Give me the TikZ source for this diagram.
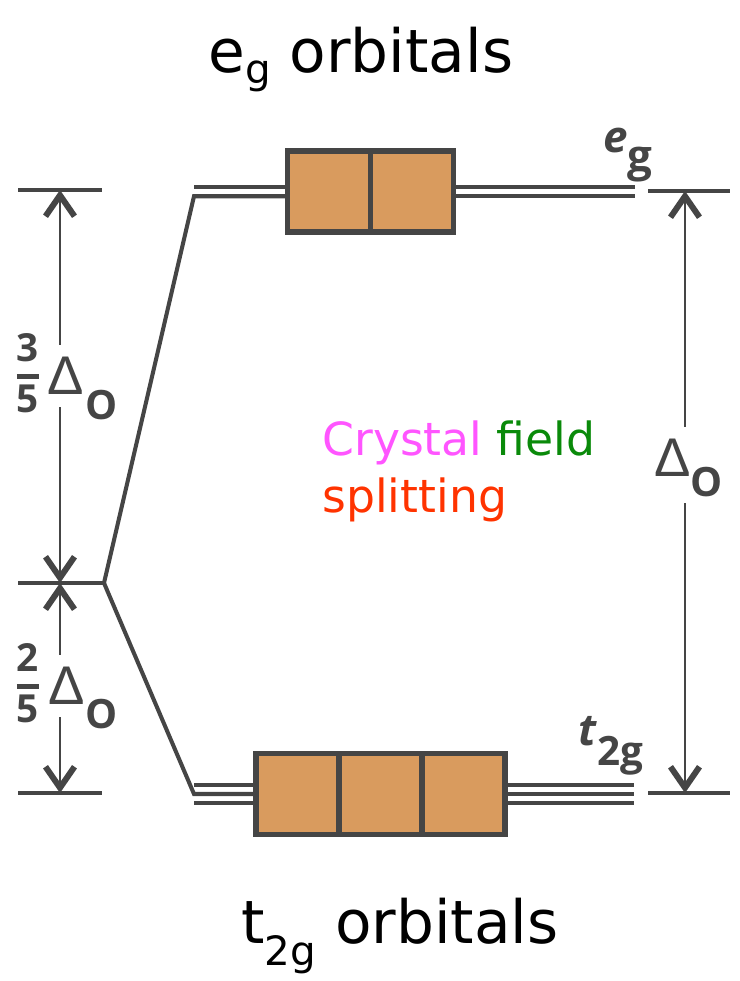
\documentclass[tikz,border=0pt]{standalone}
\usepackage{fontspec}
\setmainfont{Open Sans}
\newfontfamily\titlefont{DejaVu Sans}
\newfontfamily\deltafont{Liberation Sans}
\usetikzlibrary{positioning, arrows.meta}

\definecolor{linegray}{HTML}{454545}
\definecolor{orbfill}{HTML}{D99B5E}
\definecolor{crystalpink}{HTML}{FF55FF}
\definecolor{fieldgreen}{HTML}{0A8A0A}
\definecolor{splitred}{HTML}{FF3300}

\begin{document}
\begin{tikzpicture}[
    x=0.02cm, y=-0.02cm,
    orbbox/.style={draw=linegray, fill=orbfill, line width=3pt, minimum width=1.66cm, minimum height=1.62cm, inner sep=0pt, outer sep=0pt},
    orbline/.style={draw=linegray, line width=2.3pt},
    ticks/.style={draw=linegray, line width=2.3pt},
    dimarrow/.style={draw=linegray, line width=1.3pt, -{Straight Barb[length=0.42cm, width=0.58cm, line width=3.4pt]}},
    dlabel/.style={inner xsep=0pt, inner ysep=0.24cm, text=linegray, font=\deltafont\fontsize{31}{31}\selectfont},
    osub/.style={inner sep=0pt, text=linegray, font=\bfseries\fontsize{23}{23}\selectfont},
    fraclbl/.style={inner sep=0pt, text=linegray, font=\bfseries\fontsize{22}{23}\selectfont},
    orblbl/.style={inner sep=0pt, anchor=base west, text=linegray, font=\bfseries\fontsize{25}{25}\selectfont},
    titlelbl/.style={inner sep=0pt, anchor=base west, font=\titlefont\fontsize{34}{40}\selectfont},
    splitlbl/.style={inner sep=0pt, anchor=base west, font=\titlefont\fontsize{26}{30}\selectfont}
]
\useasboundingbox (0,0) rectangle (740,981);

% titles
\node[titlelbl] (egtitle) at (208,72) {e\raisebox{-0.22cm}{\fontsize{23}{23}\selectfont g} orbitals};
\node[titlelbl] (t2gtitle) at (241,943) {t\raisebox{-0.44cm}{\fontsize{23}{23}\selectfont 2g} orbitals};

% orbital boxes
\node[orbbox] (eg1) at (329,191.5) {};
\node[orbbox, right=0pt of eg1] (eg2) {};
\node[orbbox] (t1) at (297.5,794) {};
\node[orbbox, right=0pt of t1] (t2) {};
\node[orbbox, right=0pt of t2] (t3) {};

\coordinate (bary) at (104,583);
\coordinate (egL) at (194,191.5);
\coordinate (egR) at (635,191.5);
\coordinate (tL) at (194,794);
\coordinate (tR) at (634,794);

% energy levels
\draw[orbline] ([yshift=0.095cm]egL) -- ([yshift=0.095cm]eg1.west);
\draw[orbline] (bary) -- ([yshift=-0.095cm]egL) -- ([yshift=-0.095cm]eg1.west);
\draw[orbline] ([yshift=0.095cm]eg2.east) -- ([yshift=0.095cm]egR);
\draw[orbline] ([yshift=-0.095cm]eg2.east) -- ([yshift=-0.095cm]egR);
\draw[orbline] (bary) -- (tL) -- (t1.west);
\draw[orbline] (t3.east) -- (tR);
\foreach \dy in {-0.18cm, 0.18cm} {
    \draw[orbline] ([yshift=\dy]tL) -- ([yshift=\dy]t1.west);
    \draw[orbline] ([yshift=\dy]t3.east) -- ([yshift=\dy]tR);
}
\node[orbbox] at (eg1) {};
\node[orbbox] at (eg2) {};
\node[orbbox] at (t1) {};
\node[orbbox] at (t2) {};
\node[orbbox] at (t3) {};

\node[orblbl] (eglbl) at (603,152) {\textit{e}\raisebox{-0.4cm}{g}};
\node[orblbl] (t2glbl) at (578,745) {\textit{t}\raisebox{-0.4cm}{\fontsize{23}{23}\selectfont 2g}};

% left dimensions
\coordinate (ltop) at (60,190);
\coordinate (lmid) at (60,583);
\coordinate (lbot) at (60,793);
\draw[ticks] ([xshift=-0.84cm]ltop) -- ([xshift=0.84cm]ltop);
\draw[ticks] ([xshift=-0.84cm]lmid) -- (bary);
\draw[ticks] ([xshift=-0.84cm]lbot) -- ([xshift=0.84cm]lbot);

\node[fraclbl] (f35) at (28,379) {\setlength{\arrayrulewidth}{3pt}\begin{tabular}{@{}c@{}}3\\\hline\noalign{\vskip3pt}5\end{tabular}};
\node[dlabel] (d35) at (66,376) {Δ};
\node[osub] (o35) at (102,405) {O};
\node[fraclbl] (f25) at (28,689) {\setlength{\arrayrulewidth}{3pt}\begin{tabular}{@{}c@{}}2\\\hline\noalign{\vskip3pt}5\end{tabular}};
\node[dlabel] (d25) at (67,686) {Δ};
\node[osub] (o25) at (102,714) {O};

\draw[dimarrow] (d35.north -| ltop) -- (ltop);
\draw[dimarrow] (d35.south -| ltop) -- (lmid);
\draw[dimarrow] (d25.north -| ltop) -- (lmid);
\draw[dimarrow] (d25.south -| ltop) -- (lbot);

% right dimension
\coordinate (rtop) at (685,191);
\coordinate (rbot) at (685,793);
\draw[ticks] ([xshift=-0.74cm]rtop) -- ([xshift=0.9cm]rtop);
\draw[ticks] ([xshift=-0.74cm]rbot) -- ([xshift=0.9cm]rbot);
\node[dlabel] (dfull) at (673,458) {Δ};
\node[osub, inner ysep=0.12cm] (ofull) at (707,482) {O};
\draw[dimarrow] (dfull.north -| rtop) -- (rtop);
\draw[dimarrow] (ofull.south -| rtop) -- (rbot);

% splitting text
\node[splitlbl] (crystal) at (322,455) {\textcolor{crystalpink}{Crystal} \textcolor{fieldgreen}{field}};
\node[splitlbl, text=splitred] (splitting) at (322,512) {splitting};
\end{tikzpicture}
\end{document}
